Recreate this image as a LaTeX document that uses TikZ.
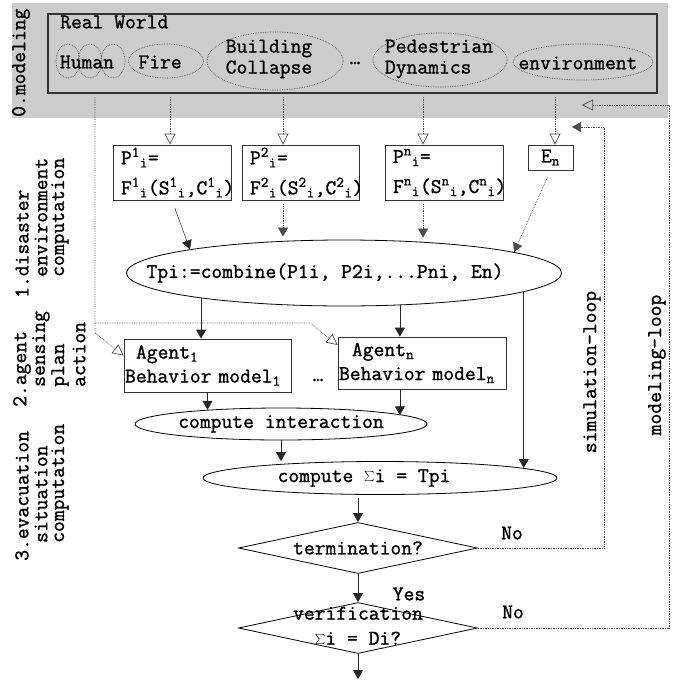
\documentclass[tikz,border=0pt]{standalone}
\usepackage{fontspec}
\setmonofont{Latin Modern Mono}[FakeBold=1.2]
\usetikzlibrary{arrows.meta}
\usetikzlibrary{shapes.geometric}

\newcommand{\zw}[1]{\makebox[0pt]{#1}}
\newcommand{\supsub}[2]{\textsuperscript{#1}\textsubscript{#2}}

\begin{document}
\begin{tikzpicture}[x=1pt, y=-1pt,
  font=\ttfamily\fontsize{21}{21}\selectfont, inner sep=0pt,
  box/.style={draw=black!80, line width=0.8pt, rectangle},
  oval/.style={draw=black, line width=0.8pt, ellipse},
  decision/.style={draw=black, line width=0.8pt, diamond, aspect=4.7, minimum width=239pt, minimum height=51pt},
  blob/.style={densely dotted, draw=black!70, line width=0.7pt},
  flow/.style={draw=black!85, line width=0.8pt, -{Triangle[length=9pt, width=10pt]}},
  dflow/.style={densely dotted, draw=black!70, line width=0.7pt, -{Triangle[length=9pt, width=10pt]}},
  feed/.style={densely dotted, draw=black!70, line width=0.7pt, -{Triangle[open, length=11pt, width=11pt]}},
  vlabel/.style={rotate=90, anchor=west}]
\useasboundingbox (0,0) rectangle (696,683);

%modeling band
\fill[gray!40] (12,3) rectangle (668,118);
\node[box, fill=gray!40, line width=1.2pt, minimum width=609pt, minimum height=79pt] (rw) at (352.5,53.5) {};
\node[anchor=west] (rwtitle) at (60,22) {Real World};
\foreach \x in {68,90,113}
  \draw[blob] (\x,61) ellipse [x radius=12, y radius=17];
\node (human) at (87,62) {Human};
\draw[blob] (166,61) ellipse [x radius=37.5, y radius=17];
\node (fire) at (160,62) {Fire};
\draw[blob] (275,61) ellipse [x radius=68, y radius=29];
\node[align=left] (collapse) at (269,59) {Building\\Collapse};
\node (dots1) at (355,63) {…};
\draw[blob] (440,60) ellipse [x radius=67, y radius=27];
\node[align=left] (pedestrian) at (439,59) {Pedestrian\\Dynamics};
\draw[blob] (583,62) ellipse [x radius=70, y radius=18];
\node (environment) at (578,63) {environment};

%phase labels
\node[vlabel] (sec0) at (21,117) {0.modeling};
\node[vlabel] (sec1a) at (22,298) {1.disaster};
\node[vlabel] (sec1b) at (41,277) {environment};
\node[vlabel] (sec1c) at (60,277) {computation};
\node[vlabel] (sec2a) at (22,407) {2.agent};
\node[vlabel] (sec2b) at (41,387) {sensing};
\node[vlabel] (sec2c) at (60,387) {plan};
\node[vlabel] (sec2d) at (79,387) {action};
\node[vlabel] (sec3a) at (22,561) {3.evacuation};
\node[vlabel] (sec3b) at (41,543) {situation};
\node[vlabel] (sec3c) at (60,543) {computation};

%disaster models
\node[box, minimum width=118pt, minimum height=55pt, text width=102pt, inner xsep=8pt, align=left] (p1) at (172,172.5)
  {P\supsub{1}{i}=\\[9pt]F\supsub{1}{i}(S\supsub{1}{i},C\supsub{1}{i})};
\node[box, minimum width=117pt, minimum height=55pt, text width=101pt, inner xsep=8pt, align=left] (p2) at (300.5,172.5)
  {P\supsub{2}{i}=\\[9pt]F\supsub{2}{i}(S\supsub{2}{i},C\supsub{2}{i})};
\node[box, minimum width=118pt, minimum height=55pt, text width=102pt, inner xsep=8pt, align=left] (pn) at (444,172.5)
  {P\supsub{n}{i}=\\[9pt]F\supsub{n}{i}(S\supsub{n}{i},C\supsub{n}{i})};
\node[box, minimum width=45pt, minimum height=25pt] (en) at (550.5,157.5) {E\textsubscript{n}};
\node[oval, minimum width=435pt, minimum height=66pt] (tpi) at (344,273) {\zw{Tpi:=combine(P1i, P2i,...Pni, En)\hspace*{38pt}}};

%agents
\node[box, minimum width=167pt, minimum height=53pt, text width=165pt, inner xsep=1pt, align=left] (ag1) at (207.5,365.5)
  {\hspace*{11pt}Agent\textsubscript{1}\\[3pt]Behavior model\textsubscript{1}};
\node (dots2) at (318,380) {…};
\node[box, minimum width=168pt, minimum height=52pt, text width=166pt, inner xsep=1pt, align=left] (agn) at (422,363)
  {\hspace*{13pt}Agent\textsubscript{n}\\[3pt]Behavior model\textsubscript{n}};

%evacuation
\node[oval, minimum width=292pt, minimum height=32pt] (ci) at (281,424) {\zw{compute interaction}};
\node[oval, minimum width=354pt, minimum height=33pt] (sum) at (380,478) {\zw{compute $\sum$i = Tpi\hspace*{32pt}}};
\node[decision] (term) at (358,548) {termination?};
\node[decision] (verif) at (358,628) {\zw{\begin{tabular}{@{}c@{}}verification\\[4pt]$\sum$i = Di?\end{tabular}}};
\coordinate (exit) at (358,679);

\node (yes) at (409,594) {Yes};
\node (no1) at (512,533) {No};
\node (no2) at (513,612) {No};
\node[rotate=90] (simlabel) at (592,372) {simulation-loop};
\node[rotate=90] (modlabel) at (657,365) {modeling-loop};

%connectors
\coordinate (hum0) at (95,97);
\coordinate (fork) at (95,323);
\coordinate (src1) at (170,97);
\coordinate (src2) at (283,97);
\coordinate (srcn) at (423,97);
\coordinate (srce) at (555,97);
\coordinate (simtip) at (572,127);
\coordinate (modtip) at (582,105);

\draw[feed] (src1) -- (src1 |- p1.north);
\draw[feed] (src2) -- (src2 |- p2.north);
\draw[feed] (srcn) -- (srcn |- pn.north);
\draw[feed] (srce) -- (srce |- en.north);
\draw[feed] (hum0) -- ++(0,236) -- ([yshift=10pt]ag1.west);
\draw[feed] (fork) -- ++(215,0) -- ([yshift=18pt]agn.west);

\draw[flow, line width=0.5pt, shorten <=8pt] (p1.south) -- (tpi.north west);
\draw[dflow, shorten <=4pt, shorten >=3pt] (src2 |- p2.south) -- (src2 |- tpi.north);
\draw[dflow, shorten <=4pt, shorten >=2pt] (srcn |- pn.south) -- (srcn |- tpi.north);
\draw[dflow, shorten <=8pt] (en.south) -- (tpi.7);

\draw[flow] (tpi.190) -- (tpi.190 |- ag1.north);
\draw[flow] (tpi.330) -- (tpi.330 |- agn.north);
\draw[flow] (tpi.354) -- (tpi.354 |- sum.4);
\draw[flow] (ag1.south) -- (ag1.south |- ci.169);
\draw[flow] (tpi.330 |- agn.south) -- (tpi.330 |- ci.4);
\draw[flow] (ci.south) -- (ci.south |- sum.north);
\draw[flow, shorten <=3pt] (term.north |- sum.south) -- (term.north);
\draw[flow] (term.south) -- (verif.north);
\draw[flow] (verif.south) -- (exit);

\draw[dflow] (term.east) -- ++(126,0) |- (simtip);
\draw[feed] (verif.east) -- ++(191,0) |- (modtip);
\end{tikzpicture}
\end{document}
